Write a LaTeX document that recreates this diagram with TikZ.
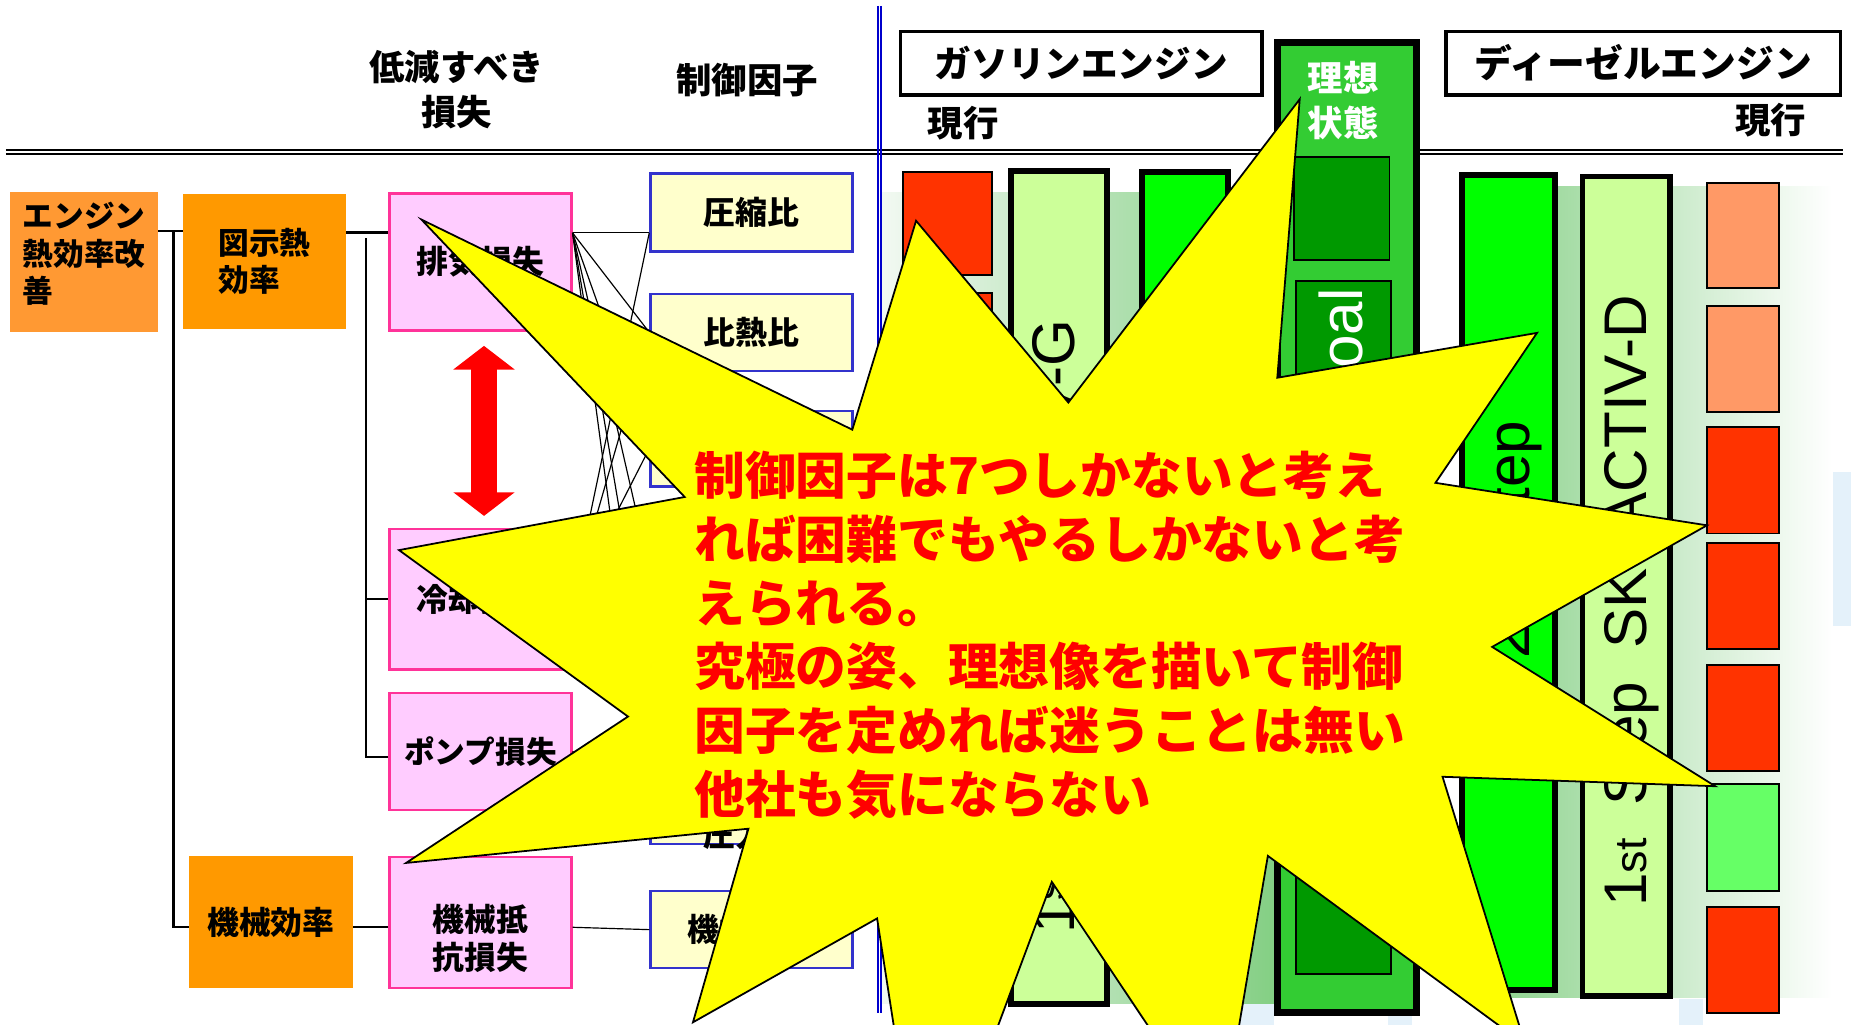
\documentclass[tikz,border=0pt]{standalone}
\usepackage{fontspec}
\newfontfamily\jp{Noto Sans CJK JP}
\newfontfamily\lsans{Liberation Sans}
\usetikzlibrary{calc}
\newcommand{\fsz}[2]{\fontsize{#1}{#2}\selectfont}
\newcommand{\bx}[7]{\node[#2,minimum width={#5-#3},minimum height={#6-#4}] (#1) at ({(#3+#5)/2},{(#4+#6)/2}) {#7};}
\definecolor{engor}{HTML}{FF9933}
\definecolor{zor}{HTML}{FF9900}
\definecolor{lossfill}{HTML}{FFCCFF}
\definecolor{lossdraw}{HTML}{FF3399}
\definecolor{cfill}{HTML}{FFFFCC}
\definecolor{cdraw}{HTML}{3333CC}
\definecolor{segred}{HTML}{FF3300}
\definecolor{segsal}{HTML}{FF9966}
\definecolor{segg}{HTML}{66FF66}
\definecolor{barlt}{HTML}{CCFF99}
\definecolor{barg}{HTML}{00FF00}
\definecolor{idealg}{HTML}{33CC33}
\definecolor{darkg}{HTML}{009900}
\definecolor{staryel}{HTML}{FFFF00}
\definecolor{startxt}{HTML}{FF0000}
\definecolor{vblue}{HTML}{0000CC}
\definecolor{panlt}{HTML}{F2F9F2}
\definecolor{panmid}{HTML}{C4E6C0}
\definecolor{pandk}{HTML}{84CF84}
\definecolor{ghost}{HTML}{E4F1FA}
\tikzset{
 lossbox/.style={draw=lossdraw,fill=lossfill,line width=2pt,inner sep=0pt,font=\jp\bfseries\fsz{27}{32},align=center},
 ctrlbox/.style={draw=cdraw,fill=cfill,line width=2pt,inner sep=0pt,font=\jp\bfseries\fsz{27}{30},align=center},
 orbox/.style={inner sep=0pt,font=\jp\bfseries\fsz{26}{32},align=left},
 treeln/.style={line width=1.8pt,draw=black},
 linkln/.style={line width=1pt,draw=black},
 seg/.style={draw=black,line width=1.5pt,inner sep=0pt},
 bigbar/.style={draw=black,line width=5pt,inner sep=0pt},
 bartxt/.style={font=\lsans\fsz{51}{60},inner sep=0pt,rotate=90},
 jtxt/.style={font=\jp\bfseries\fsz{30}{38},inner sep=0pt,align=center},
 titlebox/.style={draw=black,line width=3pt,fill=white,inner sep=0pt,font=\jp\bfseries\fsz{31}{36}},
}
\begin{document}
\begin{tikzpicture}[x=1pt,y=-1pt]
\useasboundingbox (0,0) rectangle (1568,868);
\clip (0,0) rectangle (1568,868);
\fill[white] (0,0) rectangle (1568,868);
% faint background shapes
\fill[ghost] (1553,400) rectangle (1568,530);
\fill[ghost] (1045,760) rectangle (1079,868);
\fill[ghost] (1176,840) rectangle (1196,868);
\fill[ghost] (1422,846) rectangle (1443,868);
% gradient panels
\shade[left color=panlt,middle color=panmid,right color=pandk] (747,163) rectangle (1079,850);
\shade[left color=pandk,middle color=panmid,right color=white] (1240,158) rectangle (1552,845);
% header
\draw[line width=1.7pt] (5,127) -- (1561,127);
\draw[line width=1.7pt] (5,130.8) -- (1561,130.8);
\draw[vblue,line width=2pt] (743.5,5) -- (743.5,858);
\draw[vblue,line width=2pt] (746.5,5) -- (746.5,858);
\node[jtxt] (hloss) at (387,76) {低減すべき\\損失};
\node[jtxt] (hctrl) at (633,68) {制御因子};
\bx{gasbox}{titlebox}{763}{26.5}{1069}{80.5}{ガソリンエンジン}
\bx{dslbox}{titlebox,font=\jp\bfseries\fsz{32}{36}}{1225}{26.5}{1559}{80.5}{ディーゼルエンジン}
\node[jtxt] (gcur) at (816,104) {現行};
\node[jtxt] (dcur) at (1500,102) {現行};
% left tree
\bx{eng}{fill=engor,inner sep=0pt}{8.7}{163}{134}{281}{}
\node[orbox,anchor=west] (engt) at (19,215) {エンジン\\熱効率改\\善};
\bx{zushi}{orbox,fill=zor}{155}{164}{293}{279}{図示熱\\効率}
\bx{kikai}{orbox,fill=zor,font=\jp\bfseries\fsz{27}{32}}{160}{725}{299}{837}{機械効率}
\bx{haiki}{lossbox}{330}{164}{484}{280}{排気損失}
\bx{reikyaku}{lossbox}{330}{448}{484}{567}{冷却損失}
\bx{pump}{lossbox,font=\jp\bfseries\fsz{26}{32}}{330}{587}{484}{686}{ポンプ損失}
\bx{mech}{lossbox}{330}{726}{484}{837}{}
\node[lossbox,draw=none,fill=none,font=\jp\bfseries\fsz{27}{32.5}] (mecht) at (407,795) {機械抵\\抗損失};
\coordinate (t1) at (147,196);
\coordinate (t2) at (310,202);
\draw[treeln] (eng.east |- t1) -- (zushi.west |- t1);
\draw[treeln] (t1) |- (kikai.west |- 0,785);
\draw[treeln] (zushi.east |- 0,197) -- (haiki.west |- 0,197);
\draw[treeln] (t2) |- (pump.west |- 0,641);
\draw[treeln] (t2 |- reikyaku.west) -- (reikyaku.west);
\draw[treeln] (kikai.east |- 0,785) -- (mech.west |- 0,785);
% red double arrow
\fill[red] (410,293) -- (436,313) -- (421,313) -- (421,417) -- (436,417) -- (410,437) -- (384,417) -- (399,417) -- (399,313) -- (384,313) -- cycle;
% control factor boxes
\bx{cb1}{ctrlbox}{551}{147}{722}{213}{圧縮比}
\bx{cb2}{ctrlbox}{551}{249}{722}{314}{比熱比}
\bx{cb3}{ctrlbox}{551}{348}{722}{412}{}
\bx{cb4}{ctrlbox}{551}{449}{722}{514}{}
\bx{cb5}{ctrlbox}{551}{549}{722}{614}{}
\bx{cb6}{ctrlbox}{551}{650}{722}{715}{}
\node[ctrlbox,draw=none,fill=none] (cb6t) at (636.5,707) {圧力差};
\bx{cb7}{ctrlbox}{551}{755}{722}{820}{機械抵抗}
\coordinate (e0) at ($(haiki.north east)!0.29!(haiki.south east)$);
\coordinate (k0) at (reikyaku.east);
\draw[linkln] (e0) -- (cb1.west |- e0);
\draw[linkln] (e0) -- (cb2.west);
\draw[linkln] (e0) -- (cb3.west);
\draw[linkln] (e0) -- (cb4.west);
\draw[linkln] (e0) -- (cb5.west);
\draw[linkln] (e0) -- (cb6.west);
\draw[linkln] (k0) -- (cb1.west |- e0);
\draw[linkln] (k0) -- (cb2.west);
\draw[linkln] (k0) -- (cb3.west);
\draw[linkln] (k0) -- (cb4.west);
\draw[linkln] (k0) -- (cb5.west);
\draw[linkln] (pump.east) -- (cb6.west);
\draw[linkln] ($(mech.east)+(0,4)$) -- (cb7.west);
% gasoline bars
\foreach \a/\b [count=\i] in {146/233,248/335,349/436,451/538,552/639,653/740,755/842}
  {\bx{gs\i}{seg,fill=segred}{765}{\a}{840}{\b}{}}
\bx{g2}{bigbar,fill=barlt}{856.5}{144.5}{937.5}{850.5}{}
\bx{g3}{bigbar,fill=barg}{967.5}{145.5}{1040.5}{850.5}{}
\node[bartxt] (g2t) at (898,531) {1\textsuperscript{st}\hspace{0.55em}Step\hspace{0.55em}SKYACTIV-G};
% ideal column
\bx{ideal}{draw=black,line width=6pt,fill=idealg,inner sep=0pt}{1082}{36}{1200}{858}{}
\node[jtxt,text=white] (idealt) at (1138,85) {理想\\状態};
\bx{ib1}{draw=black,line width=1.5pt,fill=darkg,inner sep=0pt}{1096}{133}{1177}{220}{}
\bx{ib2}{draw=black,line width=1.5pt,fill=darkg,inner sep=0pt}{1098}{238}{1178}{825}{}
\node[bartxt,text=white] (goalt) at (1136,298) {Goal};
% diesel bars
\bx{d1}{bigbar,fill=barg}{1238.5}{148.5}{1317.5}{838.5}{}
\bx{d2}{bigbar,fill=barlt}{1340.5}{149.5}{1414.5}{843.5}{}
\node[bartxt] (d1t) at (1283,457) {2\textsuperscript{nd}\hspace{0.55em}Step};
\node[bartxt] (d2t) at (1382,509) {1{\fsz{38}{40}st}\hspace{0.55em}Step\hspace{0.55em}SKYACTIV-D};
\foreach \a/\b/\c [count=\i] in {155/244/segsal,259/349/segsal,362/452/segred,460/550/segred,563/653/segred,664/755/segg,768/858/segred}
  {\bx{ds\i}{seg,fill=\c}{1446}{\a}{1507}{\b}{}}
% star
\filldraw[fill=staryel,draw=black,line width=1.5pt,line join=miter,miter limit=20]
 (357,186) -- (722,364) -- (776,187) -- (905,341) -- (1101,84) -- (1082,320) -- (1302,282) -- (1216,409) -- (1446,445) -- (1264,548) -- (1453,666) -- (1222,658) -- (1292,885) -- (1074,725) -- (1034,961) -- (891,747) -- (783,1036) -- (743,778) -- (587,866) -- (634,702) -- (344,731) -- (532,607) -- (338,466) -- (580,421) -- cycle;
\node[font=\jp\bfseries\fsz{43}{54},text=startxt,align=left,inner sep=0pt,anchor=west] (msg) at (588,538) {制御因子は7つしかないと考え\\れば困難でもやるしかないと考\\えられる。\\究極の姿、理想像を描いて制御\\因子を定めれば迷うことは無い\\他社も気にならない};
\end{tikzpicture}
\end{document}
